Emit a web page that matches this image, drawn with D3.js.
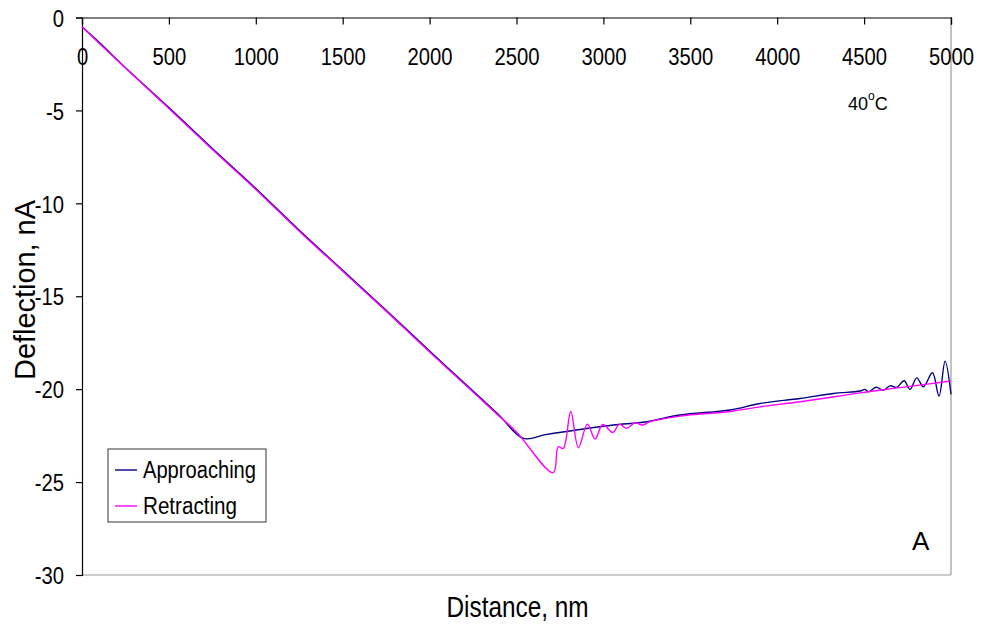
<!DOCTYPE html>
<html>
<head>
<meta charset="utf-8">
<script src="https://cdn.jsdelivr.net/npm/d3@7"></script>
<style>
  html, body { margin: 0; padding: 0; background: #fff; }
  svg { display: block; font-family: "Liberation Sans", Arial, sans-serif; }
</style>
</head>
<body>
<svg id="chart" width="985" height="627"></svg>
<script>
// Force curve at 40 °C: deflection (nA) against piezo distance (nm)
const xTicks = [0, 500, 1000, 1500, 2000, 2500, 3000, 3500, 4000, 4500, 5000];
const yTicks = [0, -5, -10, -15, -20, -25, -30];

const approachDist = [0, 100, 250, 500, 750, 1000, 1250, 1500, 1750, 2000, 2250, 2400, 2540,
  2674, 2865, 3057, 3249, 3441, 3729, 3901, 4131, 4323, 4476, 4505, 4525, 4569, 4611, 4649,
  4688, 4730, 4764, 4803, 4841, 4893, 4931, 4966, 5000];
const approachDefl = [-0.5, -1.35, -2.7, -4.85, -7.05, -9.2, -11.45, -13.6, -15.75, -17.95, -20.1, -21.4, -22.65,
  -22.43, -22.17, -21.93, -21.75, -21.39, -21.12, -20.77, -20.5, -20.23, -20.1, -20.01, -20.14, -19.9, -20.05, -19.82,
  -19.9, -19.55, -20.01, -19.39, -19.87, -19.12, -20.37, -18.49, -20.28];

const retractDist = [0, 100, 250, 500, 750, 1000, 1250, 1500, 1750, 2000, 2250, 2400, 2500,
  2711, 2740, 2769, 2812, 2856, 2908, 2952, 2996, 3054, 3092, 3134, 3182, 3224, 3268,
  3441, 3729, 3901, 4131, 4476, 4707, 5000];
const retractDefl = [-0.5, -1.4, -2.72, -4.9, -7.1, -9.25, -11.5, -13.65, -15.8, -18.0, -20.15, -21.45, -22.3,
  -24.5, -23.1, -23.19, -21.2, -23.15, -21.88, -22.69, -21.9, -22.33, -21.88, -22.11, -21.81, -21.93, -21.75,
  -21.45, -21.2, -20.95, -20.68, -20.2, -19.92, -19.56];

const seriesNames = ["Approaching", "Retracting"];
const seriesColors = ["#000080", "#ff00ff"];

const svg = d3.select("#chart");
const plotL = 82, plotR = 951, plotT = 17.5, plotB = 575;
const narrow = 0.88; // horizontal squeeze of the label glyphs

const x = d3.scaleLinear().domain([0, 5000]).range([plotL, plotR]);
const y = d3.scaleLinear().domain([-30, 0]).range([plotB, plotT]);

// plot frame: grey right and bottom edges
svg.append("line").attr("x1", plotR).attr("x2", plotR).attr("y1", plotT).attr("y2", plotB)
  .attr("stroke", "#9a9a9a").attr("stroke-width", 1.2);
svg.append("line").attr("x1", plotL).attr("x2", plotR).attr("y1", plotB).attr("y2", plotB)
  .attr("stroke", "#9a9a9a").attr("stroke-width", 1.2);

// left axis
const yAxis = svg.append("g").attr("transform", `translate(${plotL},0)`)
  .call(d3.axisLeft(y).tickValues(yTicks).tickFormat(d => String(d)).tickSize(6).tickPadding(14.5));
yAxis.selectAll("text").attr("font-size", 23).attr("fill", "#000")
  .attr("font-family", "'Liberation Sans', Arial, sans-serif")
  .attr("dy", "0.38em")
  .attr("transform", `scale(${narrow},1)`);

// distance axis runs along deflection = 0
const xAxis = svg.append("g").attr("transform", `translate(0,${y(0)})`)
  .call(d3.axisBottom(x).tickValues(xTicks).tickFormat(d => String(d)).tickSize(7).tickPadding(24));
xAxis.selectAll("text").attr("font-size", 23).attr("fill", "#000")
  .attr("font-family", "'Liberation Sans', Arial, sans-serif")
  .attr("transform", `scale(${narrow},1)`);

[yAxis, xAxis].forEach(g => {
  g.select(".domain").attr("stroke", "#000").attr("stroke-width", 1.2);
  g.selectAll(".tick line").attr("stroke", "#000").attr("stroke-width", 1.2);
});

const line = d3.line().x(d => x(d[0])).y(d => y(d[1])).curve(d3.curveCatmullRom.alpha(0.5));

const approach = approachDist.map((d, i) => [d, approachDefl[i]]);
const retract = retractDist.map((d, i) => [d, retractDefl[i]]);

svg.append("path").datum(approach).attr("d", line)
  .attr("fill", "none").attr("stroke", seriesColors[0]).attr("stroke-width", 1.4);
svg.append("path").datum(retract).attr("d", line)
  .attr("fill", "none").attr("stroke", seriesColors[1]).attr("stroke-width", 1.4);

// axis titles
svg.append("text").attr("x", 517.5).attr("y", 617).attr("text-anchor", "middle")
  .attr("font-size", 29).attr("textLength", 142).attr("lengthAdjust", "spacingAndGlyphs")
  .text("Distance, nm");
svg.append("text").attr("transform", "translate(35,290) rotate(-90)")
  .attr("text-anchor", "middle").attr("font-size", 30)
  .attr("textLength", 180).attr("lengthAdjust", "spacingAndGlyphs")
  .text("Deflection, nA");

// temperature note
const note = svg.append("text").attr("x", 848).attr("y", 110).attr("font-size", 18);
note.append("tspan").text("40");
note.append("tspan").attr("font-size", 12).attr("dy", -10).text("o");
note.append("tspan").attr("dy", 10).text("C");

// panel letter
svg.append("text").attr("x", 912).attr("y", 550).attr("font-size", 26).text("A");

// legend
const lg = svg.append("g").attr("transform", "translate(108,449)");
lg.append("rect").attr("width", 158).attr("height", 73)
  .attr("fill", "#fff").attr("stroke", "#333").attr("stroke-width", 1);
const legendWidths = [113, 94];
seriesNames.forEach((name, i) => {
  const cy = 21 + i * 36;
  lg.append("line").attr("x1", 7).attr("x2", 29).attr("y1", cy).attr("y2", cy)
    .attr("stroke", seriesColors[i]).attr("stroke-width", 1.4);
  lg.append("text").attr("x", 35).attr("y", cy + 7.5).attr("font-size", 23)
    .attr("textLength", legendWidths[i]).attr("lengthAdjust", "spacingAndGlyphs")
    .text(name);
});
</script>
</body>
</html>
